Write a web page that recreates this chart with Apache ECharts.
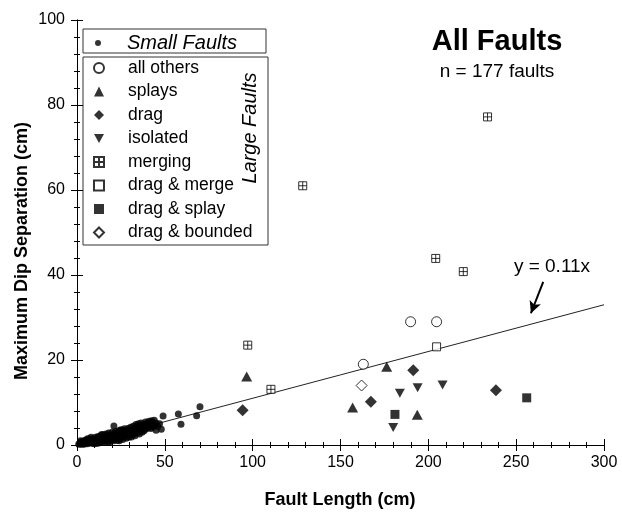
<!DOCTYPE html>
<html>
<head>
<meta charset="utf-8">
<script src="https://cdn.jsdelivr.net/npm/echarts@6/dist/echarts.min.js"></script>
<style>
html, body { margin: 0; padding: 0; background: #fff; }
#faultChart { width: 622px; height: 517px; }
</style>
</head>
<body>
<div id="faultChart"></div>
<script>
// [fault length (cm), max dip separation (cm)]
const smallFaults = [
  [1, 0.2], [1.5, 0.4], [2, 0.3], [2, 0.6], [2, 1.0], [2.5, 0.2], [3, 0.5], [3, 0.8], [3.5, 0.3],
  [4, 0.6], [4, 1.0], [4, 0.2], [4.5, 0.4], [5, 0.7], [5, 1.2], [5.5, 0.5], [6, 0.9], [6, 0.3],
  [6, 1.5], [6.5, 1.1], [7, 0.6], [7, 1.4], [7.5, 0.9], [8, 0.5], [8, 1.2], [8, 1.8], [8.5, 0.8],
  [9, 1.5], [9, 0.4], [9.5, 1.0], [10, 0.7], [10, 1.3], [10, 0.3], [10.5, 1.8], [11, 0.5], [11, 1.1],
  [11.5, 1.5], [12, 0.8], [12, 2.0], [12, 0.4], [12.5, 1.2], [13, 0.6], [13, 1.6], [13.5, 2.2],
  [14, 1.0], [14, 1.9], [14, 2.5], [14.5, 0.7], [15, 1.4], [15, 2.4], [15.5, 1.1], [16, 1.8],
  [16, 0.8], [16, 1.4], [16.5, 2.6], [17, 1.3], [17, 2.1], [17.5, 0.9], [18, 1.7], [18, 2.8],
  [18, 0.6], [18.5, 1.2], [19, 2.3], [19, 0.9], [19.5, 1.6], [20, 2.0], [20, 3.0], [20, 1.7],
  [20.5, 1.3], [21, 2.5], [21, 1.0], [21, 4.5], [21.5, 1.9], [22, 3.2], [22, 1.5], [22, 2.7],
  [22.5, 2.4], [23, 1.1], [23, 2.8], [23.5, 1.8], [24, 3.4], [24, 2.2], [24, 1.0], [24.5, 1.4],
  [25, 2.7], [25, 3.6], [25.5, 1.9], [26, 2.4], [26, 1.3], [26, 3.5], [26.5, 3.1], [27, 2.0],
  [27, 3.8], [27.5, 2.6], [28, 1.6], [28, 3.3], [28, 2.9], [28.5, 2.2], [29, 3.9], [29, 2.8],
  [29.5, 1.8], [30, 3.4], [30, 2.4], [30.5, 4.2], [31, 2.9], [31, 1.9], [31.5, 3.6], [32, 2.5],
  [32, 4.4], [32.5, 3.1], [33, 2.2], [33, 3.8], [33.5, 4.8], [34, 2.8], [34, 3.5], [34.5, 4.3],
  [35, 3.1], [35, 5.0], [35.5, 2.6], [36, 4.0], [36, 3.4], [36.5, 5.2], [37, 3.0], [37, 4.5],
  [37.5, 3.8], [38, 4.9], [38, 3.3], [38.5, 4.2], [39, 5.4], [39, 3.7], [39.5, 4.6], [40, 4.0],
  [40, 5.1], [41, 4.4], [41, 5.6], [42, 3.9], [42, 4.9], [42.5, 5.7], [43, 5.3], [43, 4.2],
  [44, 5.8], [44, 4.6], [45, 5.1], [45, 3.5], [46, 4.4], [47, 5.0], [48, 3.7], [49, 6.8],
  [57.7, 7.3], [59.2, 4.9], [68.1, 6.9], [70, 9.0]
]
const allOthers = [[163, 19.0], [189.9, 29.0], [204.7, 29.0]]
const splays = [[96.6, 16.1], [156.9, 8.8], [176.3, 18.4], [193.7, 7.1]]
const drag = [[94.3, 8.2], [167.3, 10.2], [191.4, 17.6], [238.5, 12.9]]
const isolated = [[180, 4.1], [183.8, 12.2], [193.9, 13.5], [208.1, 14.1]]
const merging = [[97.2, 23.5], [110.4, 13.1], [128.5, 61.0], [204.2, 43.9], [219.9, 40.8], [233.7, 77.2]]
const dragMerge = [[204.7, 23.1]]
const dragSplay = [[181, 7.2], [256, 11.1]]
const dragBounded = [[162, 14.0]]

const fitSlope = 0.11
const xTicks = [0, 50, 100, 150, 200, 250, 300]
const yTicks = [0, 20, 40, 60, 80, 100]

// annotation arrow (data coords)
const arrowFrom = [265.4, 38.4]
const arrowTo = [258.4, 31.0]

const font = 'Liberation Sans, Arial, sans-serif'
const myChart = echarts.init(document.getElementById('faultChart'))

const tickCommon = {
  axisLine: { show: true, lineStyle: { color: '#000', width: 1 } },
  axisTick: { show: true, inside: false, length: 6, lineStyle: { color: '#000' } },
  minorTick: { show: true, splitNumber: 5, length: 3, lineStyle: { color: '#000' } },
  splitLine: { show: false },
  minorSplitLine: { show: false }
}

const xBase = {
  type: 'value',
  min: xTicks[0],
  max: xTicks[xTicks.length - 1],
  interval: xTicks[1] - xTicks[0]
}
const yBase = {
  type: 'value',
  min: yTicks[0],
  max: yTicks[yTicks.length - 1],
  interval: yTicks[1] - yTicks[0]
}

const hollow = { color: '#fff', borderColor: '#000', borderWidth: 1 }
const solid = { color: '#000' }
const downTriangle = 'path://M0,0L10,0L5,9Z'
const crossedSquare = 'path://M0,0H8V8H0Z M4,0V8 M0,4H8'

const series = [
  {
    name: 'fit',
    type: 'line',
    data: [[xBase.min, 0], [xBase.max, fitSlope * xBase.max]],
    showSymbol: false,
    silent: true,
    lineStyle: { color: '#222', width: 1 },
    markLine: {
      silent: true,
      symbol: ['none', 'arrow'],
      symbolSize: [9, 12],
      label: { show: false },
      lineStyle: { color: '#000', width: 2, type: 'solid' },
      data: [[{ coord: arrowFrom }, { coord: arrowTo }]]
    },
    z: 1
  },
  { name: 'Small Faults', type: 'scatter', data: smallFaults, symbol: 'circle', symbolSize: 7, itemStyle: solid, z: 2 },
  { name: 'all others', type: 'scatter', data: allOthers, symbol: 'circle', symbolSize: 10, itemStyle: hollow, z: 3 },
  { name: 'splays', type: 'scatter', data: splays, symbol: 'triangle', symbolSize: [11, 10], itemStyle: solid, z: 3 },
  { name: 'drag', type: 'scatter', data: drag, symbol: 'diamond', symbolSize: 12, itemStyle: solid, z: 3 },
  { name: 'isolated', type: 'scatter', data: isolated, symbol: downTriangle, symbolSize: [10, 9], itemStyle: solid, z: 3 },
  { name: 'merging', type: 'scatter', data: merging, symbol: crossedSquare, symbolSize: 8, itemStyle: hollow, z: 3 },
  { name: 'drag & merge', type: 'scatter', data: dragMerge, symbol: 'rect', symbolSize: 8, itemStyle: hollow, z: 3 },
  { name: 'drag & splay', type: 'scatter', data: dragSplay, symbol: 'rect', symbolSize: 9, itemStyle: solid, z: 3 },
  { name: 'drag & bounded', type: 'scatter', data: dragBounded, symbol: 'diamond', symbolSize: 11, itemStyle: hollow, z: 3 }
]

const legendCommon = {
  orient: 'vertical',
  padding: 0,
  selectedMode: false,
  backgroundColor: 'transparent'
}

const option = {
  animation: false,
  backgroundColor: '#fff',
  grid: { left: 77, right: 18, top: 20, bottom: 72, containLabel: false, outerBoundsMode: 'none' },
  xAxis: [
    Object.assign({}, xBase, tickCommon, {
      position: 'bottom',
      axisLabel: { color: '#000', fontSize: 16, fontFamily: font, margin: 10 }
    }),
    Object.assign({}, xBase, tickCommon, { position: 'top', axisLabel: { show: false } })
  ],
  yAxis: [
    Object.assign({}, yBase, tickCommon, {
      position: 'left',
      axisLabel: { color: '#000', fontSize: 16, fontFamily: font, margin: 12 }
    }),
    Object.assign({}, yBase, tickCommon, { position: 'right', axisLabel: { show: false } })
  ],
  legend: [
    Object.assign({}, legendCommon, {
      left: 95,
      top: 31,
      itemWidth: 6,
      itemHeight: 6,
      data: ['Small Faults'],
      textStyle: { color: '#000', fontSize: 20, fontStyle: 'italic', fontFamily: font, lineHeight: 24, padding: [0, 0, 0, 21] }
    }),
    Object.assign({}, legendCommon, {
      left: 93,
      top: 58,
      itemWidth: 10,
      itemHeight: 10,
      itemGap: 3.5,
      data: ['all others', 'splays', 'drag', 'isolated', 'merging', 'drag & merge', 'drag & splay', 'drag & bounded'],
      textStyle: { color: '#000', fontSize: 17.5, fontFamily: font, lineHeight: 20, padding: [0, 0, 0, 19] }
    })
  ],
  graphic: [
    { type: 'rect', shape: { x: 83, y: 29, width: 183, height: 24 }, style: { fill: 'none', stroke: '#333', lineWidth: 1 } },
    { type: 'rect', shape: { x: 83, y: 57, width: 185, height: 188 }, style: { fill: 'none', stroke: '#333', lineWidth: 1 } },
    {
      type: 'text', x: 250, y: 128, rotation: Math.PI / 2,
      style: { text: 'Large Faults', fill: '#000', font: 'italic 20px ' + font, align: 'center', verticalAlign: 'middle' }
    },
    {
      type: 'text', x: 497, y: 42,
      style: { text: 'All Faults', fill: '#000', font: 'bold 29px ' + font, align: 'center', verticalAlign: 'middle' }
    },
    {
      type: 'text', x: 497, y: 72,
      style: { text: 'n = 177 faults', fill: '#000', font: '19px ' + font, align: 'center', verticalAlign: 'middle' }
    },
    {
      type: 'text', x: 552, y: 267,
      style: { text: 'y = 0.11x', fill: '#000', font: '19px ' + font, align: 'center', verticalAlign: 'middle' }
    },
    {
      type: 'text', x: 340, y: 500,
      style: { text: 'Fault Length (cm)', fill: '#000', font: 'bold 18px ' + font, align: 'center', verticalAlign: 'middle' }
    },
    {
      type: 'text', x: 22, y: 251, rotation: Math.PI / 2,
      style: { text: 'Maximum Dip Separation (cm)', fill: '#000', font: 'bold 18px ' + font, align: 'center', verticalAlign: 'middle' }
    }
  ],
  series
}

myChart.setOption(option)
</script>
</body>
</html>
